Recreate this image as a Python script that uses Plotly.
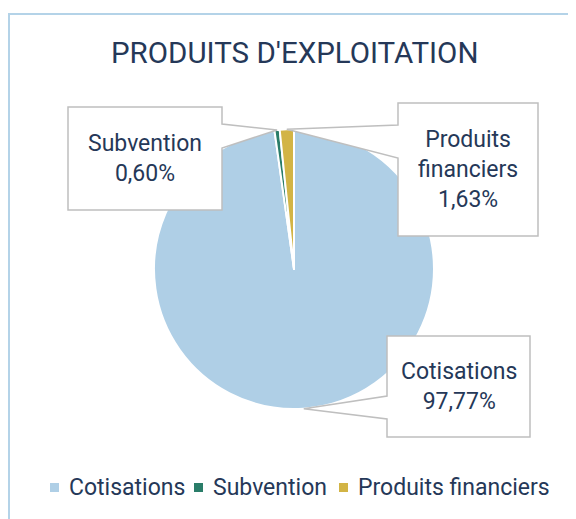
import math
import plotly.graph_objects as go

# ---- data ----
categories = ["Cotisations", "Subvention", "Produits financiers"]
values = [97.77, 0.60, 1.63]
colors = ["#AFCFE6", "#2A7D69", "#D2B445"]
title_text = "PRODUITS D'EXPLOITATION"

W, H = 576, 519
OFF = 8  # page body margin in the browser
TEXT = "#253858"
FONT = "Roboto"

# pie geometry (target pixels on screen)
CX, CY, R = 294, 269, 140


def px(x):
    return (x - OFF) / W


def py(y):
    return 1 - (y - OFF) / H


fig = go.Figure(go.Pie(
    labels=categories,
    values=values,
    marker=dict(colors=colors, line=dict(color="white", width=2)),
    sort=False,
    direction="clockwise",
    rotation=0,
    textinfo="none",
    hoverinfo="label+percent",
    showlegend=False,
    domain=dict(x=[px(CX - R), px(CX + R)], y=[py(CY + R), py(CY - R)]),
))

# tip of each callout: middle of the slice, on the pie edge
total = sum(values)
tips = []
cum = 0
for v in values:
    ang = math.radians(360 * (cum + v / 2) / total)
    tips.append((CX + R * math.sin(ang), CY - R * math.cos(ang)))
    cum += v

# callout boxes: (x0, y0, x1, y1, side of pointer, pointer top, pointer bottom)
boxes = [
    (387, 336, 530, 437, "left", 396, 419),
    (68, 107, 222, 210, "right", 124, 148),
    (398, 103, 538, 236, "left", 125, 158),
]


def callout_path(b, tip):
    x0, y0, x1, y1, side, pt, pb = b
    tx, ty = tip
    if side == "right":
        pts = [(x0, y0), (x1, y0), (x1, pt), (tx, ty), (x1, pb), (x1, y1), (x0, y1)]
    else:
        pts = [(x0, y0), (x1, y0), (x1, y1), (x0, y1), (x0, pb), (tx, ty), (x0, pt)]
    return "M " + " L ".join(f"{px(a):.5f},{py(b_):.5f}" for a, b_ in pts) + " Z"


shapes = [dict(type="rect", xref="paper", yref="paper",
               x0=px(9), y0=py(14), x1=px(640), y1=py(600),
               line=dict(color="#B4D3E8", width=2), fillcolor="rgba(0,0,0,0)",
               layer="below")]
annotations = [dict(text=title_text, x=px(294), y=py(53), xref="paper", yref="paper",
                    showarrow=False, font=dict(family=FONT, size=29.5, color=TEXT),
                    xanchor="center", yanchor="middle")]

label_texts = {
    "Cotisations": "Cotisations",
    "Subvention": "Subvention",
    "Produits financiers": "Produits<br>financiers",
}
for cat, v, b, tip in zip(categories, values, boxes, tips):
    shapes.append(dict(type="path", xref="paper", yref="paper",
                       path=callout_path(b, tip), fillcolor="white",
                       line=dict(color="#BFBFBF", width=1.5), layer="above"))
    pct = f"{v / total * 100:.2f}".replace(".", ",") + "%"
    annotations.append(dict(text=f"{label_texts[cat]}<br>{pct}",
                            x=px((b[0] + b[2]) / 2), y=py((b[1] + b[3]) / 2),
                            xref="paper", yref="paper", showarrow=False,
                            font=dict(family=FONT, size=23, color=TEXT),
                            xanchor="center", yanchor="middle", align="center"))

# legend (drawn manually to match the compact spacing of the original)
legend_x = [50, 194, 339]   # left edge of each square
LEG_Y = 487.5
SQ = 9
for cat, col, lx in zip(categories, colors, legend_x):
    shapes.append(dict(type="rect", xref="paper", yref="paper",
                       x0=px(lx), x1=px(lx + SQ), y0=py(LEG_Y - SQ / 2), y1=py(LEG_Y + SQ / 2),
                       fillcolor=col, line=dict(width=0), layer="above"))
    annotations.append(dict(text=cat, x=px(lx + SQ + 8), y=py(LEG_Y), xref="paper", yref="paper",
                            showarrow=False, xanchor="left", yanchor="middle",
                            font=dict(family=FONT, size=23, color=TEXT)))

fig.update_layout(
    width=W, height=H,
    margin=dict(l=0, r=0, t=0, b=0),
    paper_bgcolor="white", plot_bgcolor="white",
    showlegend=False,
    shapes=shapes,
    annotations=annotations,
)

fig.write_html("out.html")
